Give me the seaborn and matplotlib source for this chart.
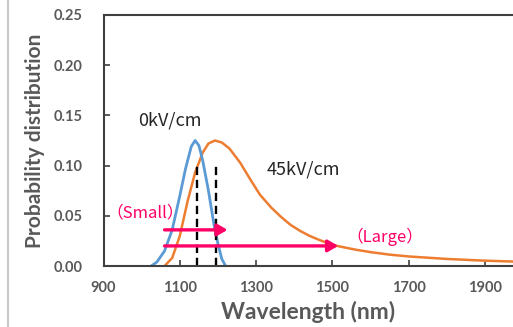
import matplotlib
matplotlib.use("Agg")
import matplotlib.pyplot as plt
from matplotlib.lines import Line2D
import seaborn as sns
import pandas as pd

# 0kV/cm curve (blue)
wl_0kv = [1025, 1040, 1060, 1080, 1100, 1115, 1130, 1140, 1150, 1160, 1175, 1190, 1200, 1210, 1220]
p_0kv = [0.000, 0.004, 0.015, 0.036, 0.070, 0.097, 0.119, 0.125, 0.120, 0.105, 0.075, 0.040, 0.022, 0.007, 0.000]

# 45kV/cm curve (orange)
wl_45kv = [1060, 1080, 1100, 1120, 1140, 1160, 1175, 1192, 1210, 1230, 1258, 1285, 1310, 1340,
           1365, 1390, 1415, 1440, 1465, 1490, 1512, 1560, 1600, 1650, 1700, 1800, 1900, 2000]
p_45kv = [0.000, 0.008, 0.030, 0.064, 0.093, 0.113, 0.122, 0.125, 0.123, 0.117, 0.103, 0.086, 0.071, 0.058,
          0.049, 0.041, 0.035, 0.030, 0.026, 0.0225, 0.020, 0.0163, 0.0138, 0.0113, 0.0095, 0.0070, 0.0053, 0.0041]

# dashed markers and arrows
dash_x = [1144, 1195]
dash_top = 0.103
small_arrow = (1060, 1225, 0.036)
large_arrow = (1060, 1515, 0.020)

x_ticks = [900, 1100, 1300, 1500, 1700, 1900]
y_ticks = [0.00, 0.05, 0.10, 0.15, 0.20, 0.25]

BLUE = "#5B9BD5"
ORANGE = "#ED7D31"
PINK = "#FF0066"
GRAY = "#595959"
JP = ["Noto Sans CJK JP", "DejaVu Sans"]

sns.set_style("ticks")

fig = plt.figure(figsize=(5.13, 3.27), dpi=100)
ax = fig.add_axes([103.5 / 513, 61 / 327, 1 - 103.5 / 513, 251 / 327])

df0 = pd.DataFrame({"wl": wl_0kv, "p": p_0kv})
df45 = pd.DataFrame({"wl": wl_45kv, "p": p_45kv})
sns.lineplot(data=df45, x="wl", y="p", color=ORANGE, lw=1.8, ax=ax)
sns.lineplot(data=df0, x="wl", y="p", color=BLUE, lw=2.0, ax=ax)

for xd in dash_x:
    ax.plot([xd, xd], [0, dash_top], color="black", lw=1.7, ls=(0, (3.5, 2)))

for x0, x1, y in [small_arrow, large_arrow]:
    ax.annotate("", xy=(x1, y), xytext=(x0, y),
                arrowprops=dict(arrowstyle="-|>,head_length=0.6,head_width=0.35",
                                color=PINK, lw=2.4, shrinkA=0, shrinkB=0))

ax.text(1074, 0.145, "0kV/cm", fontsize=13, family=JP, ha="center", va="center")
ax.text(1424, 0.096, "45kV/cm", fontsize=13, family=JP, ha="center", va="center")
ax.text(1009, 0.053, "（Small）", fontsize=12, family=JP, color=PINK, ha="center", va="center")
ax.text(1638, 0.029, "（Large）", fontsize=12, family=JP, color=PINK, ha="center", va="center")

ax.set_xlim(900, 1973)
ax.set_ylim(0, 0.25)
ax.set_xticks(x_ticks)
ax.set_yticks(y_ticks)
ax.set_yticklabels([f"{v:.2f}" for v in y_ticks])
ax.tick_params(direction="in", length=4, width=1.2, color="#404040",
               labelsize=10.5, labelcolor=GRAY)
ax.tick_params(axis="x", pad=11)
ax.tick_params(axis="y", pad=15)
for lab in ax.get_xticklabels() + ax.get_yticklabels():
    lab.set_fontfamily("Lato")
    lab.set_fontweight("bold")

for side in ["left", "bottom", "top"]:
    ax.spines[side].set_color("#404040")
    ax.spines[side].set_linewidth(1.5)
ax.spines["right"].set_visible(False)

ax.set_xlabel("Wavelength (nm)", fontsize=16.5, fontweight="bold", family="Lato", color=GRAY, labelpad=4)
ax.set_ylabel("Probability distribution", fontsize=15, fontweight="bold", family="Lato", color=GRAY, labelpad=6)

fig.add_artist(Line2D([8 / 513, 8 / 513], [0, 1], color="#C8C8C8", lw=1.5, transform=fig.transFigure))

fig.savefig("out.png", dpi=100)
